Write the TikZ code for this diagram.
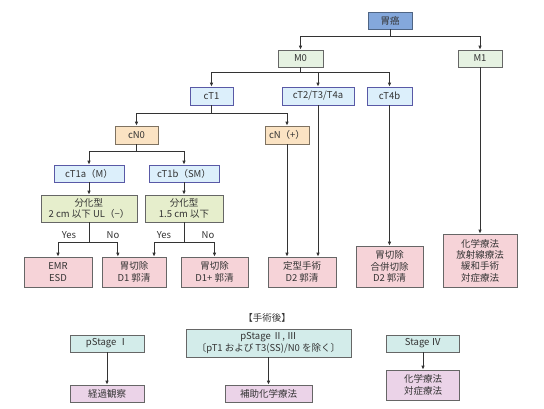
\documentclass[tikz,border=0pt]{standalone}
\usepackage{fontspec}
\setmainfont{Noto Sans CJK JP}
\usetikzlibrary{arrows.meta, calc}

\definecolor{ink}{HTML}{333333}
\definecolor{gancol}{HTML}{84A8DC}
\definecolor{mcol}{HTML}{E6F2E2}
\definecolor{tcol}{HTML}{DCEFFB}
\definecolor{ncol}{HTML}{FBE3C3}
\definecolor{bcol}{HTML}{E6EECC}
\definecolor{rcol}{HTML}{F6D3D8}
\definecolor{scol}{HTML}{D3ECEA}
\definecolor{pcol}{HTML}{EBD3E8}

\begin{document}
\begin{tikzpicture}[
    x=1pt, y=-1pt,
    >={Latex[length=4pt,width=3.5pt]},
    line width=0.9pt,
    draw=ink,
    box/.style={draw=gray!80!black, line width=0.6pt, align=center,
        inner sep=1pt, font=\fontsize{9.5}{11.3}\selectfont, text=ink,
        minimum height=17pt},
    gbox/.style={box, fill=gancol, draw=gancol!60!black},
    mbox/.style={box, fill=mcol},
    tbox/.style={box, fill=tcol, draw=gray!70!blue},
    nbox/.style={box, fill=ncol, draw=ncol!50!black},
    bbox/.style={box, fill=bcol},
    rbox/.style={box, fill=rcol},
    sbox/.style={box, fill=scol},
    pbox/.style={box, fill=pcol},
    lbl/.style={font=\fontsize{9.5}{11.3}\selectfont, text=ink, inner sep=0pt}
]
    \useasboundingbox (0,0) rectangle (544,408);

    % Top levels
    \node[gbox, minimum width=44pt] (gan) at (390,20.5) {胃癌};
    \node[mbox, minimum width=45pt] (m0) at (300.5,58.5) {M0};
    \node[mbox, minimum width=44pt] (m1) at (480,58.5) {M1};

    % T stages
    \node[tbox, minimum width=43pt, minimum height=18pt] (ct1) at (211.5,96) {cT1};
    \node[tbox, minimum width=72pt, minimum height=18pt] (ct2) at (318,96) {cT2/T3/T4a};
    \node[tbox, minimum width=45pt, minimum height=18pt] (ct4b) at (389.5,96) {cT4b};

    % N stages
    \node[nbox, minimum width=43pt, minimum height=18pt] (cn0) at (136.5,135) {cN0};
    \node[nbox, minimum width=44pt, minimum height=18pt] (cnp) at (287,135) {cN（+）};

    % cT1 subtypes
    \node[tbox, minimum width=70pt] (ct1a) at (89,173.5) {cT1a（M）};
    \node[tbox, minimum width=70pt] (ct1b) at (184,173.5) {cT1b（SM）};
    \node[bbox, minimum width=96pt, minimum height=27pt] (bunka1) at (89,208.5) {分化型\\2 cm 以下 UL（−）};
    \node[bbox, minimum width=78pt, minimum height=27pt] (bunka2) at (184,208.5) {分化型\\1.5 cm 以下};

    % Treatments
    \node[rbox, minimum width=68pt, minimum height=30pt] (emr) at (58,272) {EMR\\ESD};
    \node[rbox, minimum width=64pt, minimum height=30pt] (d1) at (134,272) {胃切除\\D1 郭清};
    \node[rbox, minimum width=67pt, minimum height=30pt] (d1p) at (214.5,272) {胃切除\\D1+ 郭清};
    \node[rbox, minimum width=68pt, minimum height=30pt] (d2) at (302,272) {定型手術\\D2 郭清};
    \node[rbox, minimum width=67pt, minimum height=41pt] (gou) at (389.5,266.5) {胃切除\\合併切除\\D2 郭清};
    \node[rbox, minimum width=74pt, minimum height=53pt] (kagaku) at (480,260.5) {化学療法\\放射線療法\\緩和手術\\対症療法};

    % Yes / No labels
    \node[lbl] (yes1) at (69,235) {Yes};
    \node[lbl] (no1) at (113,235) {No};
    \node[lbl] (yes2) at (164,235) {Yes};
    \node[lbl] (no2) at (208,235) {No};

    % Tree connectors
    \draw[->] (gan.south) -- ++(0,7) -| (m0.north);
    \draw[->] (gan.south) -- ++(0,7) -| (m1.north);
    \foreach \t in {ct1, ct2, ct4b}
        \draw[->] (m0.south) -- ++(0,5.5) -| (\t.north);
    \foreach \n in {cn0, cnp}
        \draw[->] (ct1.south) -- ++(0,8) -| (\n.north);
    \foreach \s in {ct1a, ct1b}
        \draw[->] (cn0.south) -- ++(0,7.5) -| (\s.north);
    \draw[->] (ct1a) -- (bunka1);
    \draw[->] (ct1b) -- (bunka2);
    \draw[->] (bunka1.south) -- ++(0,20.5) -| (emr.north);
    \draw[->] (bunka1.south) -- ++(0,20.5) -| ($(d1.north)!0.5!(d1.north west)$);
    \draw[->] (bunka2.south) -- ++(0,20.5) -| ($(d1.north)!0.62!(d1.north east)$);
    \draw[->] (bunka2.south) -- ++(0,20.5) -| (d1p.north);
    \draw[->] (cnp.south) -- (cnp.south |- d2.north);
    \draw[->] (ct2.south) -- (ct2.south |- d2.north);
    \draw[->] (ct4b) -- (gou);
    \draw[->] (m1) -- (kagaku);

    % After surgery
    \node[lbl] (title) at (267,318) {【手術後】};
    \node[sbox, minimum width=74pt] (ps1) at (107,343.5) {pStage Ⅰ};
    \node[sbox, minimum width=165pt, minimum height=28pt] (ps23) at (268.5,343) {pStage Ⅱ, Ⅲ\\〔pT1 および T3(SS)/N0 を除く〕};
    \node[sbox, minimum width=73pt] (ps4) at (423,343.5) {Stage Ⅳ};
    \node[pbox, minimum width=74pt] (keika) at (107,393.5) {経過観察};
    \node[pbox, minimum width=87pt] (hojo) at (268.5,393.5) {補助化学療法};
    \node[pbox, minimum width=73pt, minimum height=30pt] (kg2) at (423,385) {化学療法\\対症療法};

    \foreach \a/\b in {ps1/keika, ps23/hojo, ps4/kg2}
        \draw[->] (\a) -- (\b);

\end{tikzpicture}
\end{document}
